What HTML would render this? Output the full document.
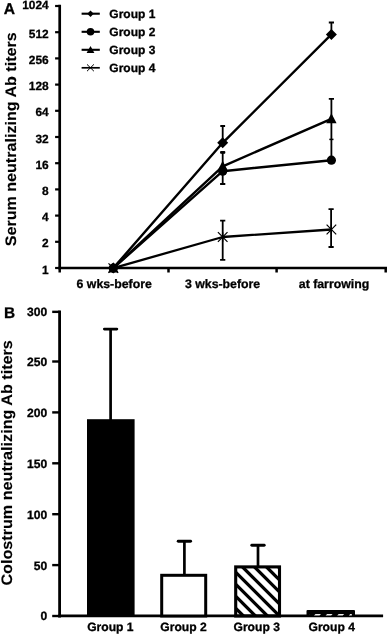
<!DOCTYPE html><html><head><meta charset="utf-8"><title>Figure</title><style>html,body{margin:0;padding:0;background:#fff}svg{display:block;will-change:transform}text{font-family:"Liberation Sans",sans-serif;font-weight:bold;fill:#000;stroke:#000;stroke-width:0.3px;text-rendering:geometricPrecision}</style></head><body>
<svg width="387" height="635" viewBox="0 0 387 635">
<rect width="387" height="635" fill="#fff"/>
<g stroke="#000" stroke-width="2.7" fill="none">
<path d="M59.7 4.7V269.35"/>
<path d="M58.35 268.0H387" stroke-width="2.55"/>
</g>
<g stroke="#000" stroke-width="2.2" fill="none">
<path d="M55.1 268.00H59.7"/>
<path d="M55.1 241.80H59.7"/>
<path d="M55.1 215.60H59.7"/>
<path d="M55.1 189.40H59.7"/>
<path d="M55.1 163.20H59.7"/>
<path d="M55.1 137.00H59.7"/>
<path d="M55.1 110.80H59.7"/>
<path d="M55.1 84.60H59.7"/>
<path d="M55.1 58.40H59.7"/>
<path d="M55.1 32.20H59.7"/>
<path d="M55.1 6.00H59.7"/>
<path d="M59.7 268.0V272.5" stroke-width="2.5"/>
<path d="M168.5 268.0V272.5" stroke-width="2.5"/>
<path d="M276.6 268.0V272.5" stroke-width="2.5"/>
<path d="M385.7 268.0V272.5" stroke-width="2.5"/>
</g>
<text x="48.7" y="273.50" font-size="11.9" text-anchor="end">1</text>
<text x="48.7" y="247.30" font-size="11.9" text-anchor="end">2</text>
<text x="48.7" y="221.10" font-size="11.9" text-anchor="end">4</text>
<text x="48.7" y="194.90" font-size="11.9" text-anchor="end">8</text>
<text x="48.7" y="168.70" font-size="11.9" text-anchor="end">16</text>
<text x="48.7" y="142.50" font-size="11.9" text-anchor="end">32</text>
<text x="48.7" y="116.30" font-size="11.9" text-anchor="end">64</text>
<text x="48.7" y="90.10" font-size="11.9" text-anchor="end">128</text>
<text x="48.7" y="63.90" font-size="11.9" text-anchor="end">256</text>
<text x="48.7" y="37.70" font-size="11.9" text-anchor="end">512</text>
<text x="48.7" y="9.40" font-size="11.9" text-anchor="end">1024</text>
<text x="3.8" y="13.5" font-size="15.6">A</text>
<text transform="translate(16.3 139.3) rotate(-90)" font-size="15.2" style="stroke-width:.12px" text-anchor="middle" textLength="214" lengthAdjust="spacingAndGlyphs">Serum neutralizing Ab titers</text>
<text x="114.2" y="288" font-size="12.3" text-anchor="middle">6 wks-before</text>
<text x="222.6" y="288" font-size="12.3" text-anchor="middle">3 wks-before</text>
<text x="334.0" y="288" font-size="12.3" text-anchor="middle">at farrowing</text>
<path d="M222.7 126V142M220.3 126H225.1" stroke="#000" stroke-width="1.8" fill="none"/>
<path d="M331.4 22.5V34.4M328.79999999999995 22.5H334.0M328.79999999999995 34.4H334.0" stroke="#000" stroke-width="1.8" fill="none"/>
<path d="M222.7 152.4V184.0M220.1 152.4H225.29999999999998M220.1 184.0H225.29999999999998" stroke="#000" stroke-width="1.8" fill="none"/>
<path d="M220.5 152.4H224.9" stroke="#000" stroke-width="2.7"/>
<path d="M331.4 98.8V160M328.8 98.8H334" stroke="#000" stroke-width="1.8" fill="none"/><path d="M329.3 139.4H333.5" stroke="#000" stroke-width="1.5"/>
<path d="M222.7 220.6V259.9M220.1 220.6H225.29999999999998M220.1 259.9H225.29999999999998" stroke="#000" stroke-width="1.8" fill="none"/>
<path d="M331.1 209.2V247.0M328.5 209.2H333.70000000000005M328.5 247.0H333.70000000000005" stroke="#000" stroke-width="1.8" fill="none"/>
<polyline points="113.3,268.1 222.7,142.8 331.4,34.4" stroke="#000" stroke-width="2.4" fill="none" stroke-linejoin="round"/>
<polyline points="113.3,268.1 222.7,171.2 331.4,160.2" stroke="#000" stroke-width="2.4" fill="none" stroke-linejoin="round"/>
<polyline points="113.3,268.1 222.7,166.3 331.4,118.8" stroke="#000" stroke-width="2.4" fill="none" stroke-linejoin="round"/>
<polyline points="113.3,268.1 222.7,237.0 331.4,229.5" stroke="#000" stroke-width="2.3" fill="none" stroke-linejoin="round"/>
<path d="M113.3 262.6L118.8 268.1L113.3 273.6L107.8 268.1Z"/>
<path d="M222.7 137.3L228.2 142.8L222.7 148.3L217.2 142.8Z"/>
<path d="M331.4 28.9L336.9 34.4L331.4 39.9L325.9 34.4Z"/>
<circle cx="113.3" cy="268.1" r="4.6"/>
<circle cx="222.7" cy="171.2" r="4.6"/>
<circle cx="331.4" cy="160.2" r="4.6"/>
<path d="M113.3 262.6L118.5 272.6H108.1Z"/>
<path d="M222.7 160.8L227.89999999999998 170.8H217.5Z"/>
<path d="M331.4 113.3L336.59999999999997 123.3H326.2Z"/>
<path d="M108.5 263.3L118.1 272.90000000000003M108.5 272.90000000000003L118.1 263.3M113.3 263.3V272.90000000000003" stroke="#000" stroke-width="1.2" fill="none"/>
<path d="M217.89999999999998 232.2L227.5 241.8M217.89999999999998 241.8L227.5 232.2M222.7 232.2V241.8" stroke="#000" stroke-width="1.2" fill="none"/>
<path d="M326.59999999999997 224.7L336.2 234.3M326.59999999999997 234.3L336.2 224.7M331.4 224.7V234.3" stroke="#000" stroke-width="1.2" fill="none"/>
<path d="M81.6 13.7H99.8" stroke="#000" stroke-width="2.1"/>
<text x="109.3" y="17.5" font-size="12">Group 1</text>
<path d="M81.6 31.8H99.8" stroke="#000" stroke-width="2.1"/>
<text x="109.3" y="35.6" font-size="12">Group 2</text>
<path d="M81.6 49.8H99.8" stroke="#000" stroke-width="2.1"/>
<text x="109.3" y="53.6" font-size="12">Group 3</text>
<path d="M81.6 67.8H99.8" stroke="#000" stroke-width="1.7"/>
<text x="109.3" y="71.6" font-size="12">Group 4</text>
<path d="M90.5 10.5L93.7 13.7L90.5 16.9L87.3 13.7Z"/>
<circle cx="90.5" cy="31.8" r="3.8"/>
<path d="M90.5 45.9L94.4 53.1H86.6Z"/>
<path d="M87 64.39999999999999L93.9 71.2M87 71.2L93.9 64.39999999999999" stroke="#000" stroke-width="1" fill="none"/>
<g stroke="#000" stroke-width="2.8" fill="none">
<path d="M59.6 310.55V617.4"/>
<path d="M58.2 615.85H383.1" stroke-width="2.65"/>
</g>
<g stroke="#000" stroke-width="2.4" fill="none">
<path d="M52.2 616.00H59.6"/>
<path d="M52.2 565.10H59.6"/>
<path d="M52.2 514.20H59.6"/>
<path d="M52.2 463.30H59.6"/>
<path d="M52.2 412.40H59.6"/>
<path d="M52.2 361.50H59.6"/>
<path d="M52.2 311.85H59.6"/>
</g>
<text x="47.3" y="620.40" font-size="12.1" text-anchor="end">0</text>
<text x="47.3" y="569.50" font-size="12.1" text-anchor="end">50</text>
<text x="47.3" y="518.60" font-size="12.1" text-anchor="end">100</text>
<text x="47.3" y="467.70" font-size="12.1" text-anchor="end">150</text>
<text x="47.3" y="416.80" font-size="12.1" text-anchor="end">200</text>
<text x="47.3" y="365.90" font-size="12.1" text-anchor="end">250</text>
<text x="47.3" y="316.25" font-size="12.1" text-anchor="end">300</text>
<text x="3.9" y="317.8" font-size="15.4">B</text>
<text transform="translate(11.7 462.9) rotate(-90)" font-size="15.2" style="stroke-width:.12px" text-anchor="middle" textLength="245.4" lengthAdjust="spacingAndGlyphs">Colostrum neutralizing Ab titers</text>
<rect x="87" y="419.2" width="47.6" height="196.80"/>
<path d="M110.6 329.1V430" stroke="#000" stroke-width="2.7" fill="none"/><path d="M104.4 329.1H116.79999999999998" stroke="#000" stroke-width="2.9000000000000004" stroke-linecap="round" fill="none"/>
<rect x="161.7" y="575.3" width="44" height="40.70" fill="#fff" stroke="#000" stroke-width="3.0"/>
<path d="M184.4 541.2V575" stroke="#000" stroke-width="2.7" fill="none"/><path d="M178.20000000000002 541.2H190.6" stroke="#000" stroke-width="2.9000000000000004" stroke-linecap="round" fill="none"/>
<defs><clipPath id="c3"><rect x="235.7" y="566.9" width="43.8" height="49"/></clipPath></defs>
<g clip-path="url(#c3)" stroke="#000" stroke-width="3.3">
<path d="M220 508.5L300 588.5"/>
<path d="M220 520.5L300 600.5"/>
<path d="M220 532.5L300 612.5"/>
<path d="M220 544.5L300 624.5"/>
<path d="M220 556.5L300 636.5"/>
<path d="M220 568.5L300 648.5"/>
<path d="M220 580.5L300 660.5"/>
<path d="M220 592.5L300 672.5"/>
<path d="M220 604.5L300 684.5"/>
<path d="M220 616.5L300 696.5"/>
</g>
<rect x="235.7" y="566.9" width="43.8" height="49.10" fill="none" stroke="#000" stroke-width="3.1"/>
<path d="M258.0 545.3V566.9" stroke="#000" stroke-width="2.7" fill="none"/><path d="M251.8 545.3H264.20000000000005" stroke="#000" stroke-width="2.9000000000000004" stroke-linecap="round" fill="none"/>
<rect x="306.5" y="610.1" width="48.5" height="6" rx="1"/>
<defs><clipPath id="c4"><rect x="309.2" y="612" width="42.6" height="5"/></clipPath></defs>
<g clip-path="url(#c4)">
<path d="M302.4 615.5L303.9 614.1H309.4L307.9 615.5Z" fill="#eee"/>
<path d="M314 615.5L315.5 614.1H321L319.5 615.5Z" fill="#eee"/>
<path d="M325.6 615.5L327.1 614.1H332.6L331.1 615.5Z" fill="#eee"/>
<path d="M337.2 615.5L338.7 614.1H344.2L342.7 615.5Z" fill="#eee"/>
<path d="M348.8 615.5L350.3 614.1H355.8L354.3 615.5Z" fill="#eee"/>
</g>
<text x="110.35" y="631.15" font-size="12.1" text-anchor="middle">Group 1</text>
<text x="183.5" y="631.15" font-size="12.1" text-anchor="middle">Group 2</text>
<text x="256.7" y="631.15" font-size="12.1" text-anchor="middle">Group 3</text>
<text x="331.7" y="631.15" font-size="12.1" text-anchor="middle">Group 4</text>
</svg></body></html>
